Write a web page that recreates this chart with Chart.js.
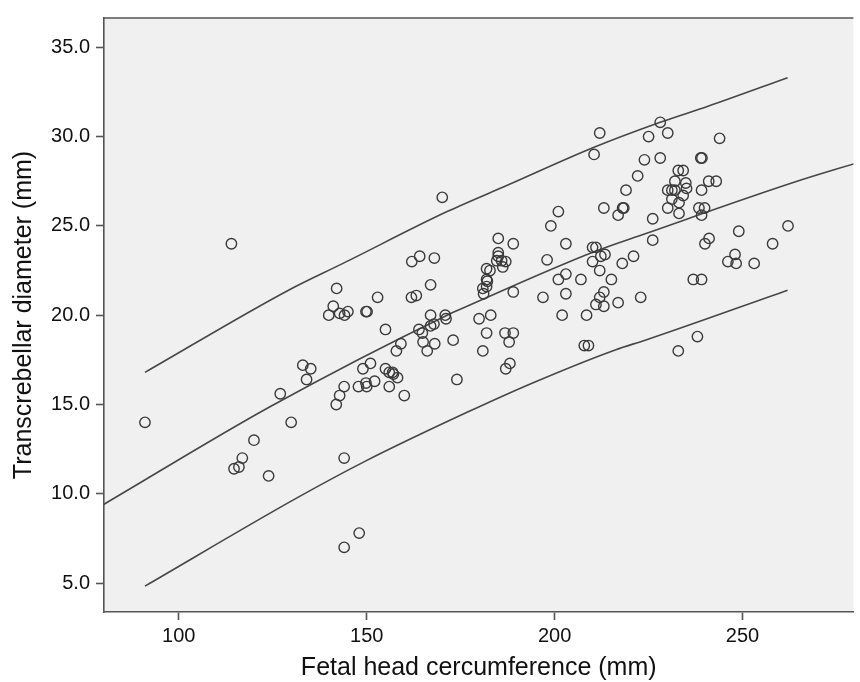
<!DOCTYPE html>
<html>
<head>
<meta charset="utf-8">
<script src="https://cdn.jsdelivr.net/npm/chart.js@4/dist/chart.umd.min.js"></script>
<style>
  html, body { margin: 0; padding: 0; background: #fff; overflow: hidden; }
  #wrap { width: 860px; height: 682px; position: relative; }
  #chart { display: block; }
</style>
</head>
<body>
<div id="wrap"><canvas id="chart"></canvas></div>
<script>
// head circumference (mm) of each fetus
let headCirc = [
    91.0, 114.0, 114.7, 116.0, 116.9, 120.0, 123.9, 127.0, 129.9, 133.0,
    135.1, 134.0, 142.0, 141.1, 139.9, 142.8, 144.1, 145.0, 149.8, 150.1,
    152.9, 161.9, 163.2, 167.0, 155.0, 159.1, 157.9, 163.9, 164.8, 167.0,
    167.9, 167.0, 170.9, 171.1, 165.0, 168.1, 166.1, 173.0, 174.0, 144.0,
    151.0, 149.0, 152.1, 149.8, 150.0, 147.8, 144.0, 142.8, 141.9, 155.0,
    156.0, 156.9, 157.1, 158.2, 156.0, 160.0, 148.0, 144.0, 170.1, 162.0,
    164.1, 168.0, 185.0, 189.0, 185.0, 185.0, 184.6, 185.9, 187.0, 186.2,
    181.9, 182.8, 181.9, 182.1, 180.9, 181.9, 181.1, 189.0, 179.9, 183.0,
    181.9, 180.9, 186.8, 189.0, 187.9, 188.1, 187.0, 198.0, 201.0, 199.0,
    203.0, 201.0, 203.0, 203.0, 196.9, 202.0, 207.0, 210.1, 211.0, 210.1,
    212.3, 213.4, 212.0, 215.1, 213.1, 212.0, 211.0, 213.1, 208.5, 216.9,
    218.0, 221.0, 222.9, 207.9, 209.0, 213.1, 218.1, 218.4, 216.9, 219.0,
    228.1, 212.0, 225.0, 230.1, 243.9, 210.5, 223.9, 228.1, 238.9, 239.2,
    222.1, 232.9, 234.2, 232.0, 234.9, 235.1, 230.1, 231.2, 232.0, 234.2,
    231.2, 233.1, 230.1, 233.1, 241.0, 243.0, 239.1, 238.4, 239.9, 239.1,
    226.1, 226.1, 241.1, 240.0, 249.0, 262.1, 258.0, 248.0, 246.1, 248.3,
    253.1, 236.9, 239.1, 238.0, 232.9
];

// transcerebellar diameter (mm), same order
let cerebDiam = [
    14.0, 24.0, 11.4, 11.5, 12.0, 13.0, 11.0, 15.6, 14.0, 17.2,
    17.0, 16.4, 21.5, 20.5, 20.0, 20.1, 20.0, 20.2, 20.2, 20.2,
    21.0, 21.0, 21.1, 21.7, 19.2, 18.4, 18.0, 19.2, 19.0, 20.0,
    19.5, 19.4, 20.0, 19.8, 18.5, 18.4, 18.0, 18.6, 16.4, 12.0,
    17.3, 17.0, 16.3, 16.2, 16.0, 16.0, 16.0, 15.5, 15.0, 17.0,
    16.8, 16.8, 16.7, 16.5, 16.0, 15.5, 7.8, 7.0, 26.6, 23.0,
    23.3, 23.2, 24.3, 24.0, 23.5, 23.3, 23.05, 23.05, 23.0, 22.7,
    22.6, 22.5, 22.0, 21.9, 21.5, 21.6, 21.2, 21.3, 19.8, 20.0,
    19.0, 18.0, 19.0, 19.0, 18.5, 17.3, 17.0, 23.1, 25.8, 25.0,
    24.0, 22.0, 22.3, 21.2, 21.0, 20.0, 22.0, 23.8, 23.8, 23.0,
    23.3, 23.4, 22.5, 22.0, 21.3, 21.0, 20.6, 20.5, 20.0, 20.7,
    22.9, 23.3, 21.0, 18.3, 18.3, 26.0, 26.0, 26.0, 25.6, 27.0,
    30.8, 30.2, 30.0, 30.2, 29.9, 29.0, 28.7, 28.8, 28.8, 28.8,
    27.8, 28.1, 28.1, 27.5, 27.4, 27.1, 27.0, 27.0, 27.0, 26.7,
    26.5, 26.3, 26.0, 25.7, 27.5, 27.5, 27.0, 26.0, 26.0, 25.6,
    25.4, 24.2, 24.3, 24.0, 24.7, 25.0, 24.0, 23.4, 23.0, 22.9,
    22.9, 22.0, 22.0, 18.8, 18.0
];

// fitted mean and prediction bounds
let upperX = [91, 129.2, 143.7, 171.4, 187.7, 210.5, 228.1, 240.8, 262];
let upperY = [16.8, 21.4, 22.9, 25.8, 27.3, 29.4, 30.8, 31.7, 33.3];
let meanX = [80, 124.5, 171.4, 176.7, 210.5, 224.1, 263.7, 280];
let meanY = [9.4, 14.9, 20.0, 20.5, 23.55, 24.56, 27.44, 28.5];
let lowerX = [91, 131.8, 149.4, 176.7, 194.3, 216.3, 224.1, 262];
let lowerY = [4.83, 9.81, 11.8, 14.56, 16.22, 18.07, 18.6, 21.4];

let xTicks = [100, 150, 200, 250];
let yTicks = [5, 10, 15, 20, 25, 30, 35];

const fontFamily = "'Liberation Sans', Arial, sans-serif";
const inkColor = '#555555';

function toPoints(xs, ys) {
    return xs.map((x, i) => ({ x: x, y: ys[i] }));
}

function curveDataset(xs, ys) {
    return {
        type: 'line',
        data: toPoints(xs, ys),
        borderColor: '#474747',
        borderWidth: 1.6,
        pointRadius: 0,
        fill: false,
        cubicInterpolationMode: 'monotone',
        order: 2
    };
}

const plotFrame = {
    id: 'plotFrame',
    beforeDraw(chart) {
        let { ctx, chartArea: a } = chart;
        ctx.save();
        ctx.fillStyle = '#f0f0f0';
        ctx.fillRect(a.left, a.top, a.right - a.left, a.bottom - a.top);
        ctx.strokeStyle = inkColor;
        ctx.lineWidth = 1.6;
        ctx.beginPath();
        ctx.moveTo(a.left, a.top);
        ctx.lineTo(a.right, a.top);
        ctx.stroke();
        ctx.restore();
    }
};

function buildChart() {
    let ctx = document.getElementById('chart').getContext('2d');
    new Chart(ctx, {
        type: 'scatter',
        data: {
            datasets: [
                {
                    data: toPoints(headCirc, cerebDiam),
                    pointStyle: 'circle',
                    pointRadius: 5.2,
                    backgroundColor: 'rgba(0,0,0,0)',
                    borderColor: '#3a3a3a',
                    borderWidth: 1.4,
                    order: 1
                },
                curveDataset(upperX, upperY),
                curveDataset(meanX, meanY),
                curveDataset(lowerX, lowerY)
            ]
        },
        options: {
            responsive: true,
            maintainAspectRatio: false,
            animation: false,
            layout: { padding: { top: 11, right: 0, left: 0, bottom: 0 } },
            plugins: {
                legend: { display: false },
                tooltip: { enabled: false }
            },
            scales: {
                x: {
                    type: 'linear',
                    min: 80.1,
                    max: 279.5,
                    afterFit: s => { s.height = 70; },
                    afterBuildTicks: s => { s.ticks = xTicks.map(v => ({ value: v })); },
                    border: { display: true, color: inkColor, width: 1.6 },
                    grid: { drawOnChartArea: false, drawTicks: true, tickLength: 8, tickColor: inkColor, tickWidth: 1.6 },
                    ticks: {
                        padding: 4,
                        color: '#111',
                        font: { family: fontFamily, size: 20 },
                        callback: v => String(v)
                    },
                    title: {
                        display: true,
                        text: 'Fetal head cercumference (mm)',
                        color: '#111',
                        font: { family: fontFamily, size: 25, lineHeight: 1 },
                        padding: { top: 0, bottom: 1 }
                    }
                },
                y: {
                    type: 'linear',
                    min: 3.38,
                    max: 36.64,
                    afterFit: s => { s.width = 104; },
                    afterBuildTicks: s => { s.ticks = yTicks.map(v => ({ value: v })); },
                    border: { display: true, color: inkColor, width: 1.6 },
                    grid: { drawOnChartArea: false, drawTicks: true, tickLength: 8, tickColor: inkColor, tickWidth: 1.6 },
                    ticks: {
                        padding: 6,
                        color: '#111',
                        font: { family: fontFamily, size: 20 },
                        callback: v => v.toFixed(1)
                    },
                    title: {
                        display: true,
                        text: 'Transcrebellar diameter (mm)',
                        color: '#111',
                        font: { family: fontFamily, size: 25, lineHeight: 1 },
                        padding: { top: 12, bottom: 0 }
                    }
                }
            }
        },
        plugins: [plotFrame]
    });
}

buildChart();
</script>
</body>
</html>
